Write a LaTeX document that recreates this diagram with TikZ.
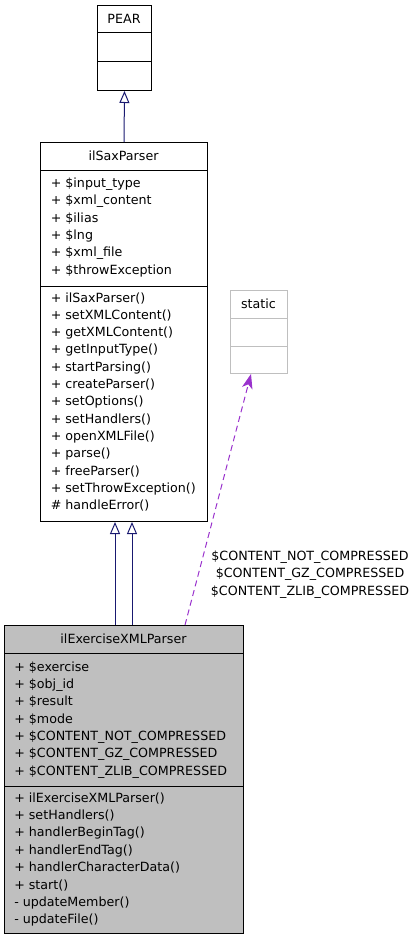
\documentclass[tikz,border=0pt]{standalone}
\usepackage{fontspec}
\setmainfont{DejaVu Sans}
\usepackage{tikz}
\usetikzlibrary{arrows.meta, positioning, calc}
\definecolor{dnavy}{HTML}{191970}
\definecolor{dpurple}{HTML}{9A32CD}
\definecolor{dgrey}{HTML}{BFBFBF}

\begin{document}
\begin{tikzpicture}[x=0.75pt, y=-0.75pt,
  classbox/.style={draw=black, line width=0.75pt, inner sep=0pt, anchor=north west},
  member/.style={font=\fontsize{9.5}{11}\selectfont, anchor=base west, inner sep=0pt},
  cname/.style={font=\fontsize{9.5}{11}\selectfont, anchor=base, inner sep=0pt},
  inherit/.style={dnavy, line width=0.75pt, -{Triangle[open, length=9pt, width=7.5pt, fill=white]}},
  usedby/.style={dpurple, line width=0.75pt, dash pattern=on 4.5pt off 3pt, -{Stealth[length=11pt, width=8pt, inset=3pt]}}]
\useasboundingbox (0,0) rectangle (417,941);

% PEAR
\node[classbox, minimum width=54*0.75pt, minimum height=85*0.75pt] (pear) at (97,5) {};
\draw[line width=0.75pt] (pear.west |- 0,33) -- (pear.east |- 0,33);
\draw[line width=0.75pt] (pear.west |- 0,62) -- (pear.east |- 0,62);
\node[cname] (pearname) at (124,23.5) {PEAR};

% ilSaxParser
\node[classbox, minimum width=167*0.75pt, minimum height=379*0.75pt] (sax) at (40,142) {};
\draw[line width=0.75pt] (sax.west |- 0,171) -- (sax.east |- 0,171);
\draw[line width=0.75pt] (sax.west |- 0,286) -- (sax.east |- 0,286);
\node[cname] (saxname) at (123.5,161) {ilSaxParser};
\foreach \m [count=\i from 0] in {{+ \$input\_type}, {+ \$xml\_content}, {+ \$ilias},
    {+ \$lng}, {+ \$xml\_file}, {+ \$throwException}}
  \node[member] (saxa\i) at (50.5,187.5+17.33*\i) {\m};
\foreach \m [count=\i from 0] in {{+ ilSaxParser()}, {+ setXMLContent()}, {+ getXMLContent()},
    {+ getInputType()}, {+ startParsing()}, {+ createParser()}, {+ setOptions()},
    {+ setHandlers()}, {+ openXMLFile()}, {+ parse()}, {+ freeParser()},
    {+ setThrowException()}, {\# handleError()}}
  \node[member] (saxm\i) at (50.5,302+17.33*\i) {\m};

% static
\node[classbox, draw=dgrey, minimum width=57*0.75pt, minimum height=83*0.75pt] (stat) at (230,290) {};
\draw[dgrey, line width=0.75pt] (stat.west |- 0,318) -- (stat.east |- 0,318);
\draw[dgrey, line width=0.75pt] (stat.west |- 0,346) -- (stat.east |- 0,346);
\node[cname] (statname) at (258.5,308.5) {static};

% ilExerciseXMLParser
\node[classbox, fill=dgrey, minimum width=239*0.75pt, minimum height=308*0.75pt] (exc) at (4,625) {};
\draw[line width=0.75pt] (exc.west |- 0,653) -- (exc.east |- 0,653);
\draw[line width=0.75pt] (exc.west |- 0,786) -- (exc.east |- 0,786);
\node[cname] (excname) at (123.5,643) {ilExerciseXMLParser};
\foreach \m [count=\i from 0] in {{+ \$exercise}, {+ \$obj\_id}, {+ \$result}, {+ \$mode},
    {+ \$CONTENT\_NOT\_COMPRESSED}, {+ \$CONTENT\_GZ\_COMPRESSED}, {+ \$CONTENT\_ZLIB\_COMPRESSED}}
  \node[member] (exca\i) at (14,671+17.35*\i) {\m};
\foreach \m [count=\i from 0] in {{+ ilExerciseXMLParser()}, {+ setHandlers()}, {+ handlerBeginTag()},
    {+ handlerEndTag()}, {+ handlerCharacterData()}, {+ start()}, {- updateMember()}, {- updateFile()}}
  \node[member] (excm\i) at (14,802+17.4*\i) {\m};

% relations
\draw[inherit] (sax.north) -- (pear.south);
\draw[inherit] (exc.north -| 115,0) -- (sax.south -| 115,0);
\draw[inherit] (exc.north -| 132,0) -- (sax.south -| 132,0);
\draw[usedby] (exc.north -| 185,0) -- (stat.south -| 251,0);
\node[font=\fontsize{9.5}{13.1}\selectfont, align=center, inner sep=0pt] (lbl) at (310,574.5)
  {\$CONTENT\_NOT\_COMPRESSED\\\$CONTENT\_GZ\_COMPRESSED\\\$CONTENT\_ZLIB\_COMPRESSED};
\end{tikzpicture}
\end{document}
